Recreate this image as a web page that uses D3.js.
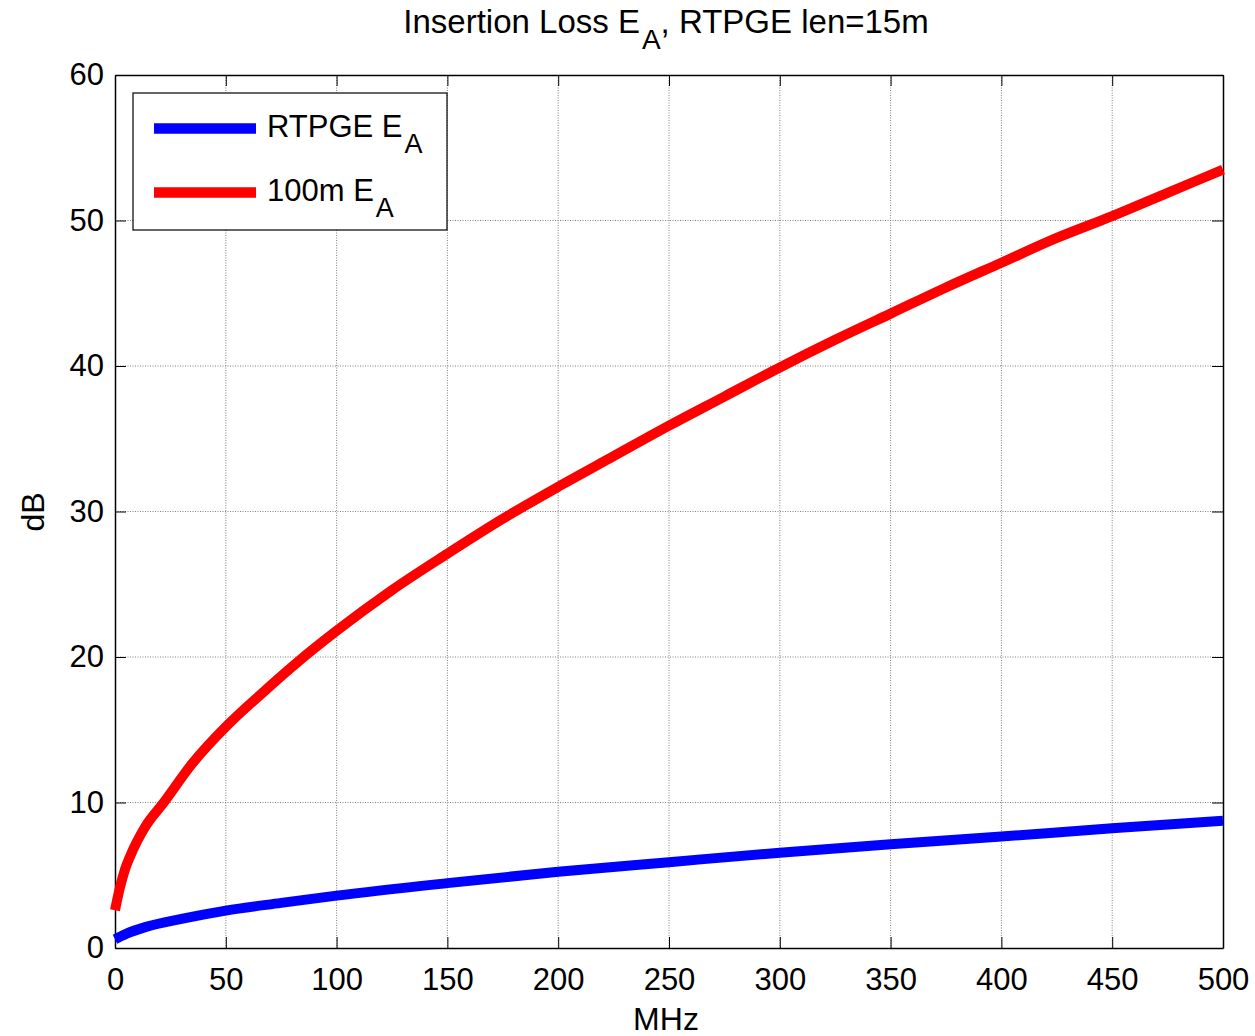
<!DOCTYPE html>
<html>
<head>
<meta charset="utf-8">
<script src="https://cdn.jsdelivr.net/npm/d3@7"></script>
<style>
  body { margin: 0; background: #fff; }
  svg { display: block; font-family: "Liberation Sans", Arial, Helvetica, sans-serif; }
  .axis path { stroke: #000; stroke-width: 1.5; }
  .axis line { stroke: #000; stroke-width: 1; }
  .axis text { font-size: 31px; fill: #000; }
  .grid line { stroke: #808080; stroke-width: 1; stroke-dasharray: 1,1.5; }
</style>
</head>
<body>
<svg width="1255" height="1036"></svg>
<script>
// values (MHz -> dB)
const freqRed = [0, 2.3, 4.5, 6.8, 13.5, 22, 35, 50, 67, 82, 100, 125, 150, 175, 200, 225, 250, 275, 300, 325, 350, 375, 400, 425, 450, 475, 500];
const lossRed = [2.6, 4.2, 5.4, 6.3, 8.3, 10.0, 12.7, 15.2, 17.6, 19.6, 21.8, 24.6, 27.1, 29.5, 31.7, 33.8, 35.9, 37.9, 39.9, 41.8, 43.6, 45.4, 47.1, 48.8, 50.3, 51.9, 53.5];
const freqBlue = [0, 5, 14, 30, 50, 75, 100, 150, 200, 250, 300, 350, 400, 450, 500];
const lossBlue = [0.6, 0.97, 1.45, 2.0, 2.57, 3.1, 3.6, 4.46, 5.24, 5.9, 6.55, 7.13, 7.66, 8.23, 8.74];
const xTicks = [0, 50, 100, 150, 200, 250, 300, 350, 400, 450, 500];
const yTicks = [0, 10, 20, 30, 40, 50, 60];

const series = [
  { name: "RTPGE E", sub: "A", color: "#0000ff", f: freqBlue, v: lossBlue },
  { name: "100m E", sub: "A", color: "#ff0000", f: freqRed, v: lossRed }
];

const svg = d3.select("svg");
const pLeft = 115, pRight = 1223, pTop = 75, pBottom = 948;

const x = d3.scaleLinear().domain([0, 500]).range([pLeft, pRight]);
const y = d3.scaleLinear().domain([0, 60]).range([pBottom, pTop]);

// grid
const grid = svg.append("g").attr("class", "grid");
grid.selectAll(".gx").data(xTicks.slice(1, -1)).enter().append("line")
  .attr("x1", d => x(d)).attr("x2", d => x(d))
  .attr("y1", pTop).attr("y2", pBottom);
grid.selectAll(".gy").data(yTicks.slice(1, -1)).enter().append("line")
  .attr("x1", pLeft).attr("x2", pRight)
  .attr("y1", d => y(d)).attr("y2", d => y(d));

// axes, ticks inward on all four sides
svg.append("g").attr("class", "axis")
  .attr("transform", `translate(0,${pBottom})`)
  .call(d3.axisBottom(x).tickValues(xTicks).tickSize(-11).tickSizeOuter(0).tickPadding(20));
svg.append("g").attr("class", "axis")
  .attr("transform", `translate(${pLeft},0)`)
  .call(d3.axisLeft(y).tickValues(yTicks).tickSize(-11).tickSizeOuter(0).tickPadding(11));
svg.append("g").attr("class", "axis")
  .attr("transform", `translate(0,${pTop})`)
  .call(d3.axisTop(x).tickValues(xTicks).tickSize(-11).tickSizeOuter(0).tickFormat(""));
svg.append("g").attr("class", "axis")
  .attr("transform", `translate(${pRight},0)`)
  .call(d3.axisRight(y).tickValues(yTicks).tickSize(-11).tickSizeOuter(0).tickFormat(""));

// curves
const line = d3.line()
  .x(d => x(d[0]))
  .y(d => y(d[1]))
  .curve(d3.curveMonotoneX);

svg.append("g").selectAll("path")
  .data(series)
  .enter()
  .append("path")
  .attr("d", s => line(d3.zip(s.f, s.v)))
  .attr("fill", "none")
  .attr("stroke", s => s.color)
  .attr("stroke-width", 10)
  .attr("stroke-linejoin", "round");

// legend
const legend = svg.append("g");
legend.append("rect")
  .attr("x", 133).attr("y", 93)
  .attr("width", 314).attr("height", 137)
  .attr("fill", "#fff").attr("stroke", "#000").attr("stroke-width", 1.2);

const item = legend.selectAll(".item")
  .data(series)
  .enter()
  .append("g")
  .attr("transform", (d, i) => `translate(0,${128.5 + i * 64})`);
item.append("line")
  .attr("x1", 154).attr("x2", 256)
  .attr("stroke", d => d.color).attr("stroke-width", 10.5);
const lt = item.append("text")
  .attr("x", 267).attr("y", 8)
  .attr("font-size", 31);
lt.append("tspan").text(d => d.name);
lt.append("tspan").attr("dx", 2).attr("dy", 16).attr("font-size", 27).text(d => d.sub);

// title
const title = svg.append("text")
  .attr("x", 666).attr("y", 33)
  .attr("text-anchor", "middle")
  .attr("font-size", 33);
title.append("tspan").text("Insertion Loss E");
title.append("tspan").attr("dx", 2).attr("dy", 16).attr("font-size", 28).text("A");
title.append("tspan").attr("dy", -16).text(", RTPGE len=15m");

// axis labels
svg.append("text")
  .attr("x", 666).attr("y", 1030)
  .attr("text-anchor", "middle")
  .attr("font-size", 32)
  .text("MHz");
svg.append("text")
  .attr("transform", "translate(44,512) rotate(-90)")
  .attr("text-anchor", "middle")
  .attr("font-size", 32)
  .text("dB");
</script>
</body>
</html>
